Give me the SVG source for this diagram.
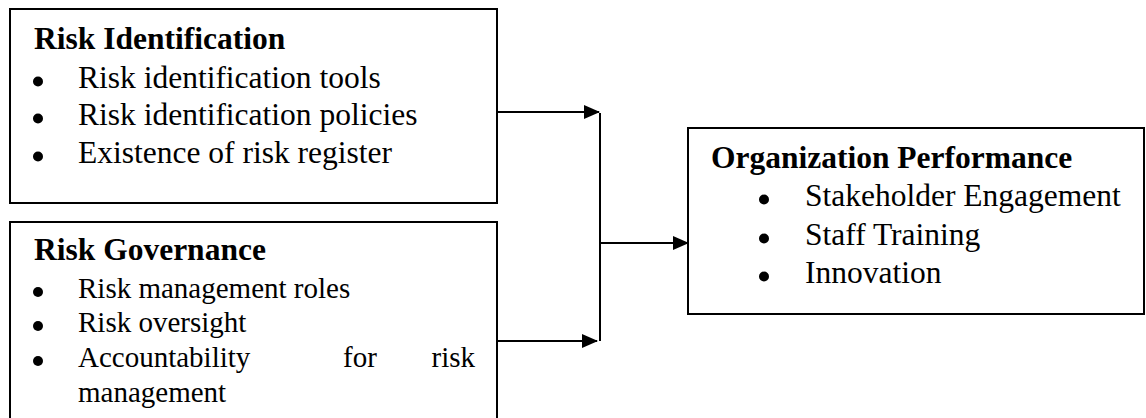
<svg xmlns="http://www.w3.org/2000/svg" width="1146" height="418" viewBox="0 0 1146 418">
  <style>
    .box { fill: #fff; stroke: #000; stroke-width: 2; }
    .title { font-family: "Liberation Serif", "Times New Roman", serif; font-weight: bold; font-size: 31.5px; fill: #000; }
    .item { font-family: "Liberation Serif", "Times New Roman", serif; font-size: 31.5px; fill: #000; }
    .small { font-size: 29px; }
    .bul { fill: #000; }
    .conn { fill: none; stroke: #000; stroke-width: 2; }
  </style>
  <defs>
    <marker id="arr" markerWidth="16" markerHeight="14" refX="15" refY="7" orient="auto" markerUnits="userSpaceOnUse">
      <polygon points="0,0 16,7 0,14" fill="#000"/>
    </marker>
  </defs>
  <rect width="1146" height="418" fill="#fff"/>

  <g id="risk-identification">
    <rect class="box" x="10" y="9" width="487" height="194"/>
    <text class="title" x="34" y="49">Risk Identification</text>
    <circle class="bul" cx="38" cy="81.5" r="5"/>
    <text class="item" x="78" y="88">Risk identification tools</text>
    <circle class="bul" cx="38" cy="118.5" r="5"/>
    <text class="item" x="78" y="125">Risk identification policies</text>
    <circle class="bul" cx="38" cy="156.5" r="5"/>
    <text class="item" x="78" y="163">Existence of risk register</text>
  </g>

  <g id="risk-governance">
    <rect class="box" x="10" y="222" width="487" height="210"/>
    <text class="title" x="34" y="260">Risk Governance</text>
    <circle class="bul" cx="38" cy="292" r="5"/>
    <text class="item small" x="78" y="298">Risk management roles</text>
    <circle class="bul" cx="38" cy="326" r="5"/>
    <text class="item small" x="78" y="332">Risk oversight</text>
    <circle class="bul" cx="38" cy="361" r="5"/>
    <text class="item small" x="78" y="367">Accountability</text>
    <text class="item small" x="343" y="367">for</text>
    <text class="item small" x="475" y="367" text-anchor="end">risk</text>
    <text class="item small" x="78" y="402">management</text>
  </g>

  <g id="organization-performance">
    <rect class="box" x="688" y="128" width="456" height="186"/>
    <text class="title" x="711" y="168">Organization Performance</text>
    <circle class="bul" cx="764" cy="199.5" r="5"/>
    <text class="item" x="805" y="206">Stakeholder Engagement</text>
    <circle class="bul" cx="764" cy="238.5" r="5"/>
    <text class="item" x="805" y="245">Staff Training</text>
    <circle class="bul" cx="764" cy="276.5" r="5"/>
    <text class="item" x="805" y="283">Innovation</text>
  </g>

  <g id="connectors">
    <line class="conn" x1="497" y1="112" x2="599" y2="112" marker-end="url(#arr)"/>
    <line class="conn" x1="497" y1="341" x2="597" y2="341" marker-end="url(#arr)"/>
    <line class="conn" x1="600" y1="113" x2="600" y2="341"/>
    <line class="conn" x1="600" y1="243" x2="688" y2="243" marker-end="url(#arr)"/>
  </g>
</svg>
